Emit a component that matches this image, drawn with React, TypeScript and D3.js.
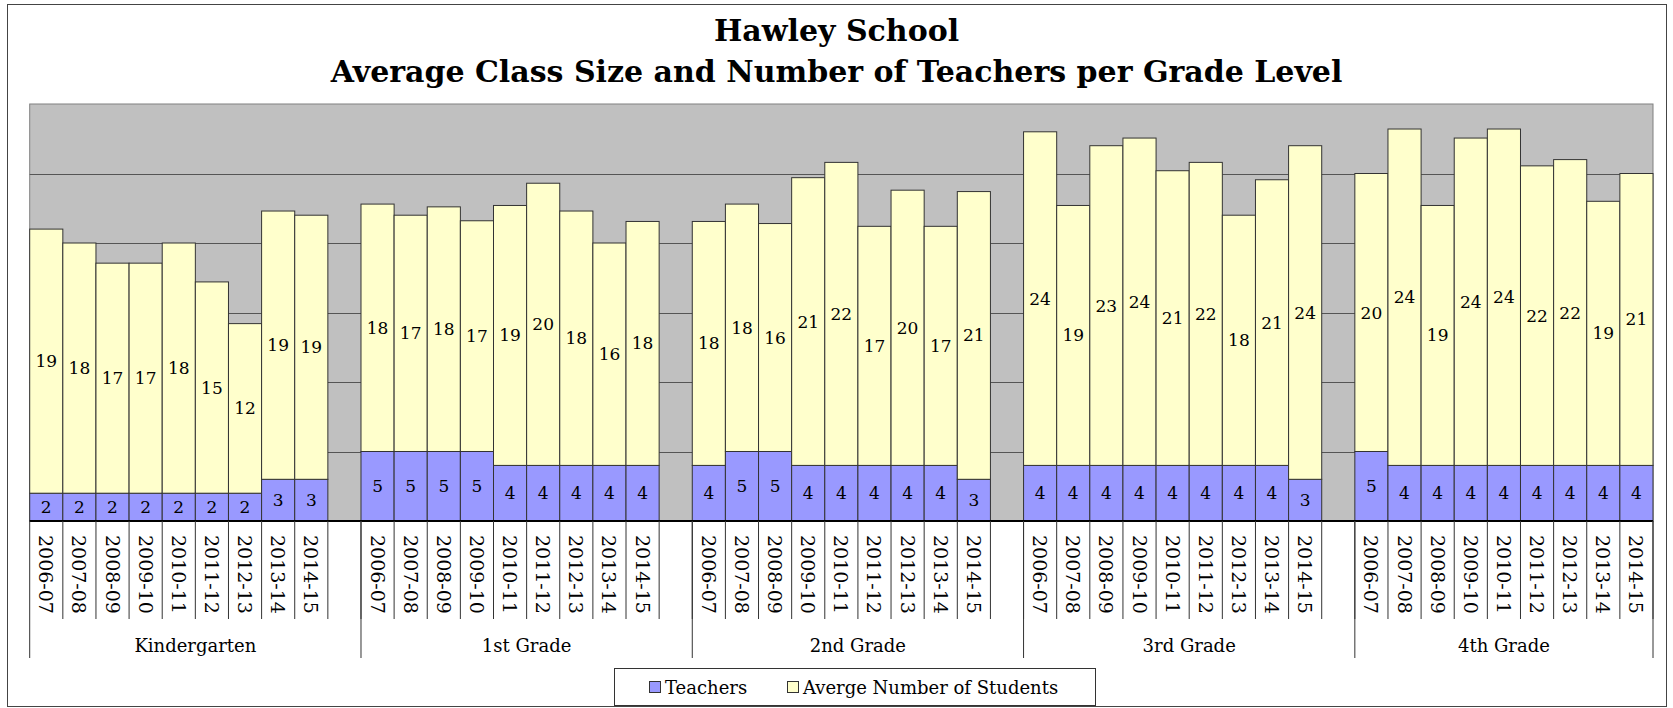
import * as d3 from "d3";

// chart data
const grades = ["Kindergarten", "1st Grade", "2nd Grade", "3rd Grade", "4th Grade"];
const years = ["2006-07", "2007-08", "2008-09", "2009-10", "2010-11", "2011-12", "2012-13", "2013-14", "2014-15"];

const teachers = [
  [2, 2, 2, 2, 2, 2, 2, 3, 3],
  [5, 5, 5, 5, 4, 4, 4, 4, 4],
  [4, 5, 5, 4, 4, 4, 4, 4, 3],
  [4, 4, 4, 4, 4, 4, 4, 4, 3],
  [5, 4, 4, 4, 4, 4, 4, 4, 4],
];

const students = [
  [19.0, 18.0, 16.55, 16.55, 18.0, 15.2, 12.2, 19.3, 19.0],
  [17.8, 17.0, 17.6, 16.6, 18.7, 20.3, 18.3, 16.0, 17.55],
  [17.55, 17.8, 16.4, 20.7, 21.8, 17.2, 19.8, 17.2, 20.7],
  [24.0, 18.7, 23.0, 23.55, 21.2, 21.8, 18.0, 20.55, 24.0],
  [20.0, 24.2, 18.7, 23.55, 24.2, 21.55, 22.0, 19.0, 21.0],
];

const seriesNames = ["Teachers", "Averge Number of Students"];
const colors = ["#9999FF", "#FFFFCC"];

const W = 1673;
const H = 708;
const serif = "'DejaVu Serif', Georgia, serif";

export default function App() {
  // one slot per school year, plus an empty slot after every grade but the last
  const slots: string[] = [];
  grades.forEach((g, gi) => {
    years.forEach((yr) => slots.push(`${g}|${yr}`));
    if (gi < grades.length - 1) slots.push(`${g}|gap`);
  });

  const x = d3.scaleBand<string>().domain(slots).range([29.7, 1653]).padding(0);
  const y = d3.scaleLinear().domain([0, 30]).range([521, 104]);
  const bw = x.bandwidth();
  const plotL = 29.7;
  const plotR = 1653;
  const fmt = d3.format(".0f");

  const bars = grades.flatMap((g, gi) =>
    years.map((yr, yi) => ({
      key: `${g}|${yr}`,
      year: yr,
      t: teachers[gi][yi],
      s: students[gi][yi],
    }))
  );

  const gridVals = y.ticks(6).filter((v) => v > 0 && v < 30);

  // group boundaries on the category axis
  const groupEdges = grades.map((g) => x(`${g}|${years[0]}`) as number);
  groupEdges.push(plotR);

  return (
    <svg
      width={W}
      height={H}
      style={{ position: "absolute", left: 0, top: 0, background: "#fff" }}
    >
      <rect x={7.5} y={4.5} width={1659} height={702} fill="#fff" stroke="#444" strokeWidth={1} />

      <text x={W / 2} y={41} textAnchor="middle" fontFamily={serif} fontWeight="bold" fontSize={30}>
        Hawley School
      </text>
      <text x={W / 2} y={82} textAnchor="middle" fontFamily={serif} fontWeight="bold" fontSize={30}>
        Average Class Size and Number of Teachers per Grade Level
      </text>

      {/* plot area */}
      <rect x={plotL} y={y(30)} width={plotR - plotL} height={y(0) - y(30)} fill="#C0C0C0" stroke="#808080" />
      {gridVals.map((v) => (
        <line key={v} x1={plotL} x2={plotR} y1={Math.round(y(v)) + 0.5} y2={Math.round(y(v)) + 0.5} stroke="#555" />
      ))}

      {/* stacked bars */}
      {bars.map((b) => {
        const x0 = x(b.key) as number;
        const yT = y(b.t);
        const yS = y(b.t + b.s);
        return (
          <g key={b.key}>
            <rect x={x0} y={yT} width={bw} height={y(0) - yT} fill={colors[0]} stroke="#333" strokeWidth={1} />
            <rect x={x0} y={yS} width={bw} height={yT - yS} fill={colors[1]} stroke="#333" strokeWidth={1} />
            <text x={x0 + bw / 2} y={(y(0) + yT) / 2} textAnchor="middle" dominantBaseline="central" fontFamily={serif} fontSize={17}>
              {b.t}
            </text>
            <text x={x0 + bw / 2} y={(yT + yS) / 2} textAnchor="middle" dominantBaseline="central" fontFamily={serif} fontSize={17}>
              {fmt(b.s)}
            </text>
            <text
              transform={`translate(${x0 + bw / 2},535) rotate(90)`}
              dominantBaseline="central"
              fontFamily={serif}
              fontSize={19}
            >
              {b.year}
            </text>
          </g>
        );
      })}

      {/* category axis */}
      <line x1={plotL} x2={plotR} y1={521} y2={521} stroke="#000" strokeWidth={2} />
      {slots.map((s) => (
        <line key={s} x1={(x(s) as number) + bw} x2={(x(s) as number) + bw} y1={521} y2={619} stroke="#333" />
      ))}
      {groupEdges.map((gx, i) => (
        <line key={i} x1={gx} x2={gx} y1={521} y2={658} stroke="#333" />
      ))}
      {grades.map((g, i) => (
        <text key={g} x={(groupEdges[i] + groupEdges[i + 1]) / 2} y={652} textAnchor="middle" fontFamily={serif} fontSize={18}>
          {g}
        </text>
      ))}

      {/* legend */}
      <rect x={614.5} y={668.5} width={481} height={37} fill="#fff" stroke="#333" />
      {seriesNames.map((n, i) => {
        const lx = i === 0 ? 649 : 787;
        return (
          <g key={n}>
            <rect x={lx + 0.5} y={681.5} width={11} height={11} fill={colors[i]} stroke="#333" />
            <text x={lx + 16} y={687} dominantBaseline="central" fontFamily={serif} fontSize={18}>
              {n}
            </text>
          </g>
        );
      })}
    </svg>
  );
}
